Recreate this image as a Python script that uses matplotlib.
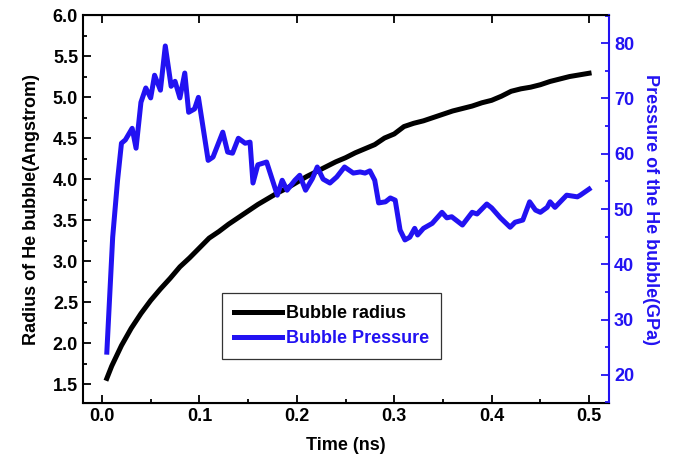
import numpy as np
import matplotlib
matplotlib.use("Agg")
import matplotlib.pyplot as plt
from matplotlib.ticker import MultipleLocator

# radius of the bubble (Angstrom) vs time (ns)
t_radius = [0.005, 0.01, 0.02, 0.03, 0.04, 0.05, 0.06, 0.07, 0.08, 0.09, 0.10,
            0.11, 0.12, 0.13, 0.14, 0.15, 0.16, 0.17, 0.18, 0.19, 0.20,
            0.21, 0.22, 0.23, 0.24, 0.25, 0.26, 0.27, 0.28, 0.29, 0.30,
            0.31, 0.32, 0.33, 0.34, 0.35, 0.36, 0.37, 0.38, 0.39, 0.40,
            0.41, 0.42, 0.43, 0.44, 0.45, 0.46, 0.47, 0.48, 0.49, 0.50]
radius = [1.57, 1.72, 1.97, 2.18, 2.36, 2.52, 2.66, 2.79, 2.93, 3.04, 3.16,
          3.28, 3.36, 3.45, 3.53, 3.61, 3.69, 3.76, 3.83, 3.89, 3.96,
          4.03, 4.09, 4.15, 4.21, 4.26, 4.32, 4.37, 4.42, 4.50, 4.55,
          4.64, 4.68, 4.71, 4.75, 4.79, 4.83, 4.86, 4.89, 4.93, 4.96,
          5.01, 5.07, 5.10, 5.12, 5.15, 5.19, 5.22, 5.25, 5.27, 5.29]

# pressure of the bubble (GPa) vs time (ns)
t_pressure = [0.005, 0.011, 0.016, 0.020, 0.024, 0.031, 0.035, 0.040, 0.045, 0.050,
              0.054, 0.060, 0.065, 0.071, 0.075, 0.080, 0.085, 0.089, 0.095, 0.099,
              0.109, 0.114, 0.124, 0.129, 0.134, 0.140, 0.147, 0.152, 0.155, 0.160,
              0.169, 0.180, 0.185, 0.190, 0.198, 0.203, 0.209, 0.216, 0.221, 0.227,
              0.234, 0.241, 0.249, 0.258, 0.265, 0.270, 0.275, 0.280, 0.284, 0.291,
              0.296, 0.301, 0.306, 0.311, 0.316, 0.321, 0.324, 0.330, 0.339, 0.349,
              0.354, 0.359, 0.370, 0.380, 0.385, 0.395, 0.400, 0.409, 0.419, 0.424,
              0.432, 0.439, 0.445, 0.450, 0.457, 0.460, 0.465, 0.477, 0.488, 0.491,
              0.500]
pressure = [24.1, 44.9, 55.2, 61.9, 62.5, 64.6, 61.0, 69.3, 71.9, 70.1,
            74.2, 71.5, 79.5, 72.2, 73.1, 70.1, 74.6, 67.5, 68.1, 70.2,
            58.8, 59.4, 63.9, 60.3, 60.1, 62.8, 61.9, 62.1, 54.7, 58.0,
            58.5, 52.5, 55.2, 53.4, 55.2, 56.1, 53.4, 55.5, 57.6, 55.4,
            54.7, 55.8, 57.6, 56.5, 56.7, 56.5, 56.9, 55.2, 51.1, 51.3,
            52.0, 51.6, 46.2, 44.4, 44.9, 46.5, 45.3, 46.5, 47.4, 49.4,
            48.4, 48.6, 47.1, 49.4, 49.1, 50.9, 50.2, 48.4, 46.7, 47.6,
            48.0, 51.3, 49.8, 49.4, 50.3, 51.3, 50.3, 52.5, 52.2, 52.5,
            53.6]

blue = '#2212f2'
plt.rcParams['font.family'] = ['Liberation Sans', 'DejaVu Sans']
plt.rcParams['font.weight'] = 'bold'

fig = plt.figure(figsize=(6.84, 4.66), dpi=100)
ax1 = fig.add_axes([0.1213, 0.1352, 0.7691, 0.8326])
ax2 = ax1.twinx()

l1, = ax1.plot(t_radius, radius, color='black', linewidth=3.6, label='Bubble radius')
l2, = ax2.plot(t_pressure, pressure, color=blue, linewidth=3.6, label='Bubble Pressure')

ax1.set_xlim(-0.0195, 0.5205)
ax1.set_ylim(1.27, 6.0)
ax2.set_ylim(14.9, 85.1)

ax1.xaxis.set_major_locator(MultipleLocator(0.1))
ax1.xaxis.set_minor_locator(MultipleLocator(0.05))
ax1.yaxis.set_major_locator(MultipleLocator(0.5))
ax1.yaxis.set_minor_locator(MultipleLocator(0.25))
ax2.yaxis.set_major_locator(MultipleLocator(10))
ax2.yaxis.set_minor_locator(MultipleLocator(5))
ax1.xaxis.set_major_formatter(plt.FormatStrFormatter('%.1f'))
ax1.yaxis.set_major_formatter(plt.FormatStrFormatter('%.1f'))

ax1.tick_params(which='both', direction='in', top=True, right=False, labelsize=13, width=1.3)
ax1.tick_params(which='major', length=6)
ax1.tick_params(which='minor', length=3)
ax1.tick_params(axis='x', which='minor', top=False)
ax2.tick_params(which='both', direction='in', colors=blue, labelsize=13, width=1.3)
ax2.tick_params(which='major', length=6)
ax2.tick_params(which='minor', length=3)

for s in ax1.spines.values():
    s.set_linewidth(1.5)
ax2.spines['right'].set_color(blue)
ax2.spines['right'].set_linewidth(1.5)
ax2.spines['left'].set_visible(False)
ax1.spines['right'].set_visible(False)

ax1.set_xlabel('Time (ns)', fontsize=13, fontweight='bold', labelpad=9)
ax1.set_ylabel('Radius of He bubble(Angstrom)', fontsize=13, fontweight='bold', labelpad=9)
ax2.set_ylabel('Pressure of the He bubble(GPa)', fontsize=13, fontweight='bold',
               color=blue, rotation=270, labelpad=18)

leg = ax1.legend(handles=[l1, l2], loc='lower left', bbox_to_anchor=(0.247, 0.09),
                 fontsize=13, frameon=True, fancybox=False, edgecolor='black',
                 handlelength=2.7, handletextpad=0.2, borderpad=0.65, labelspacing=0.45)
leg.get_frame().set_linewidth(0.9)
leg.get_texts()[1].set_color(blue)

fig.savefig('out.png', dpi=100)
